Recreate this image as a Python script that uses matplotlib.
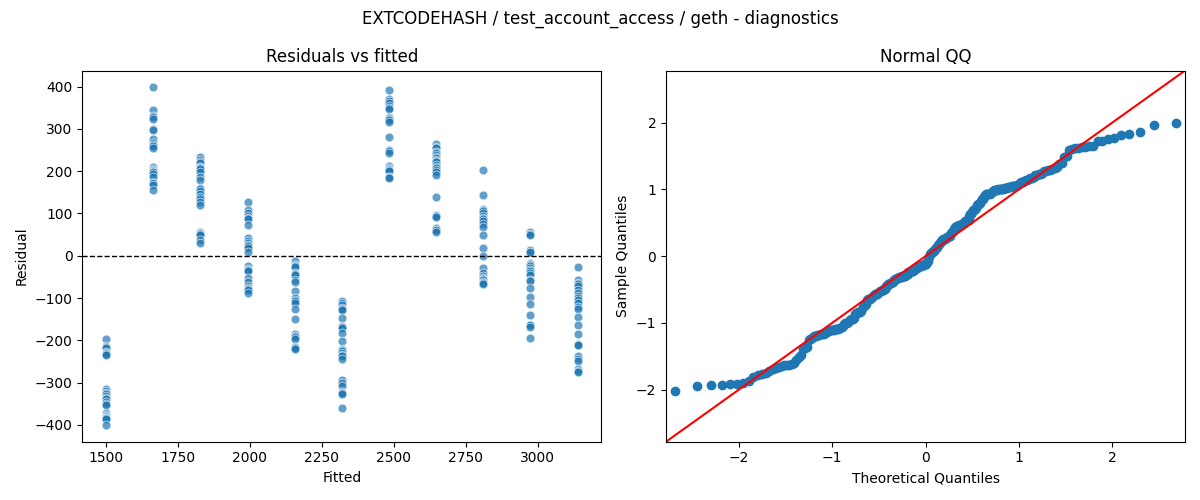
"""
Residual diagnostics for EXTCODEHASH / test_account_access / geth.
Left: residuals vs fitted, right: normal QQ of standardized residuals.
"""

from statistics import NormalDist

import numpy as np
import matplotlib
matplotlib.use('Agg')
import matplotlib.pyplot as plt

# Fitted value of each group
fitted_levels = [1500, 1664, 1828, 1992, 2155, 2319, 2483, 2647, 2810, 2974, 3138]

# Residuals per fitted group
resid_1500 = [-197, -214, -216, -218, -228, -231, -232, -234, -316, -320, -324, -328, -332,
              -336, -340, -346, -350, -352, -371, -377, -379, -381, -383, -384, -386, -400]
resid_1664 = [398, 345, 331, 327, 323, 300, 298, 276, 266, 261, 259, 256,
              209, 206, 203, 201, 199, 197, 194, 187, 173, 171, 167, 156]
resid_1828 = [233, 227, 222, 219, 211, 209, 207, 205, 199, 187, 179, 161, 158,
              154, 146, 140, 134, 128, 120, 57, 53, 52, 50, 38, 30]
resid_1992 = [127, 109, 100, 93, 90, 87, 72, 42, 34, 30, 26, 22, 18,
              10, -25, -31, -34, -37, -53, -61, -71, -76, -79, -82, -87]
resid_2155 = [-13, -22, -25, -27, -42, -44, -45, -58, -61, -83, -100, -101, -104,
              -106, -112, -127, -149, -185, -190, -192, -197, -215, -217, -218, -220]
resid_2319 = [-108, -112, -116, -124, -126, -129, -147, -166, -168, -171, -183, -202, -220,
              -222, -226, -230, -234, -238, -245, -293, -300, -308, -322, -324, -326, -360]
resid_2483 = [393, 370, 366, 362, 354, 350, 346, 329, 326, 323, 320, 317, 280,
              250, 247, 244, 212, 207, 205, 203, 200, 187, 186, 183]
resid_2647 = [264, 258, 254, 246, 242, 238, 234, 231, 227, 225, 222, 215, 210,
              207, 203, 199, 191, 138, 97, 94, 91, 65, 62, 60, 57]
resid_2810 = [203, 143, 110, 108, 107, 105, 100, 93, 90, 87, 82, 76, 69,
              50, 18, 0, -29, -41, -47, -53, -55, -58, -62, -64, -68]
resid_2974 = [56, 52, 48, 14, 10, 8, -17, -20, -23, -25, -29, -33, -37,
              -42, -45, -57, -60, -76, -98, -114, -141, -163, -165, -168, -194]
resid_3138 = [-27, -58, -65, -68, -71, -80, -88, -96, -100, -104, -112, -121, -126,
              -145, -165, -186, -208, -210, -212, -238, -244, -249, -269, -272, -275]

resid_groups = [resid_1500, resid_1664, resid_1828, resid_1992, resid_2155, resid_2319,
                resid_2483, resid_2647, resid_2810, resid_2974, resid_3138]

title = 'EXTCODEHASH / test_account_access / geth - diagnostics'

fitted = np.concatenate([[f] * len(g) for f, g in zip(fitted_levels, resid_groups)])
resid = np.concatenate([np.array(g, dtype=float) for g in resid_groups])

fig, (ax1, ax2) = plt.subplots(1, 2, figsize=(12, 5), dpi=100)

# Residuals vs fitted
ax1.scatter(fitted, resid, s=40, color='#1f77b4', alpha=0.7, edgecolor='white', linewidth=0.6)
ax1.axhline(0, color='black', linestyle='--', linewidth=1)
ax1.set_xlabel('Fitted')
ax1.set_ylabel('Residual')
ax1.set_title('Residuals vs fitted')

# Normal QQ (standardized residuals, plotting positions i/(n+1))
n = len(resid)
sample_q = np.sort((resid - resid.mean()) / resid.std())
nd = NormalDist()
theo_q = np.array([nd.inv_cdf(i / (n + 1)) for i in range(1, n + 1)])

ax2.plot(theo_q, sample_q, 'o', color='#1f77b4')
lims = [-2.78, 2.78]
ax2.plot(lims, lims, '-r', linewidth=1.5)
ax2.set_xlim(lims)
ax2.set_ylim(lims)
ax2.set_xlabel('Theoretical Quantiles')
ax2.set_ylabel('Sample Quantiles')
ax2.set_title('Normal QQ')

fig.suptitle(title)
plt.tight_layout()
plt.savefig('out.png', dpi=100)
plt.close()
